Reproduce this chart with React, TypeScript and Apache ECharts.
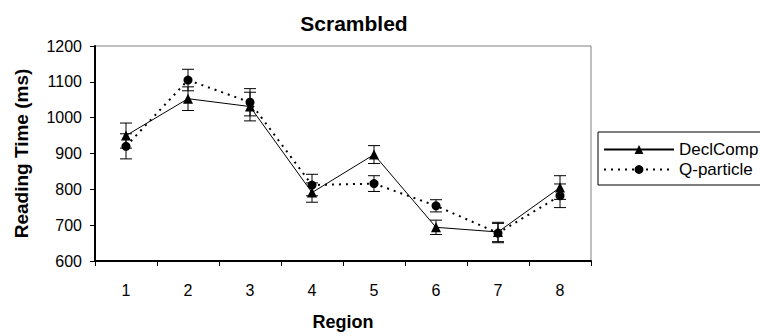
import React, { useEffect, useRef } from "react";
import * as echarts from "echarts";

const regions = ["1", "2", "3", "4", "5", "6", "7", "8"];
const declComp = [950, 1053, 1031, 791, 897, 694, 681, 805];
const declErr = [35, 33, 40, 27, 25, 20, 27, 33];
const qParticle = [920, 1105, 1043, 812, 816, 754, 678, 782];
const qErr = [35, 30, 38, 30, 22, 17, 27, 33];
const yTicks = { min: 600, max: 1200, interval: 100 };

const FONT = "'Liberation Sans', Arial, sans-serif";

function errorData(means: number[], errs: number[]) {
  return means.map((m, i) => [i, m - errs[i], m + errs[i]]);
}

function errorRender(params: any, api: any) {
  const x = api.value(0);
  const lo = api.coord([x, api.value(1)]);
  const hi = api.coord([x, api.value(2)]);
  const half = 6;
  const style = { stroke: "#000", lineWidth: 1 };
  return {
    type: "group",
    children: [
      { type: "line", shape: { x1: lo[0], y1: lo[1], x2: hi[0], y2: hi[1] }, style },
      { type: "line", shape: { x1: lo[0] - half, y1: lo[1], x2: lo[0] + half, y2: lo[1] }, style },
      { type: "line", shape: { x1: hi[0] - half, y1: hi[1], x2: hi[0] + half, y2: hi[1] }, style },
    ],
  };
}

export default function App() {
  const ref = useRef<HTMLDivElement>(null);
  useEffect(() => {
    document.body.style.margin = "0";
    const chart = echarts.init(ref.current!, null, { renderer: "svg" });
    chart.setOption({
      animation: false,
      backgroundColor: "#fff",
      title: {
        text: "Scrambled",
        left: 349,
        textAlign: "center",
        top: 8,
        textStyle: { fontFamily: FONT, fontSize: 21, fontWeight: "bold", color: "#000" },
      },
      grid: {
        left: 95,
        right: 169,
        top: 46,
        bottom: 74,
        show: true,
        borderColor: "#808080",
        borderWidth: 1,
        backgroundColor: "#fff",
      },
      legend: {
        orient: "vertical",
        left: 598,
        top: 132,
        padding: [9, 20, 7, 5],
        itemGap: 3,
        itemWidth: 70,
        itemHeight: 11,
        borderColor: "#000",
        borderWidth: 1,
        data: ["DeclComp", "Q-particle"],
        textStyle: { fontFamily: FONT, fontSize: 17, color: "#000", padding: [0, 0, 0, 0] },
      },
      xAxis: {
        type: "category",
        data: regions,
        boundaryGap: true,
        name: "Region",
        nameLocation: "middle",
        nameGap: 52,
        nameTextStyle: { fontFamily: FONT, fontSize: 18, fontWeight: "bold", color: "#000" },
        axisLine: { lineStyle: { color: "#000", width: 2 } },
        axisTick: { show: true, inside: false, length: 5, lineStyle: { color: "#000" } },
        axisLabel: { fontFamily: FONT, fontSize: 16, color: "#000", margin: 21 },
        splitLine: { show: false },
      },
      yAxis: {
        type: "value",
        min: yTicks.min,
        max: yTicks.max,
        interval: yTicks.interval,
        name: "Reading Time (ms)",
        nameLocation: "middle",
        nameGap: 64,
        nameTextStyle: { fontFamily: FONT, fontSize: 19, fontWeight: "bold", color: "#000" },
        axisLine: { show: true, lineStyle: { color: "#000", width: 2 } },
        axisTick: { show: true, inside: false, length: 5, lineStyle: { color: "#000" } },
        axisLabel: {
          fontFamily: FONT,
          fontSize: 16,
          color: "#000",
          margin: 13,
          formatter: (v: number) => String(v),
        },
        splitLine: { show: false },
      },
      series: [
        {
          name: "DeclComp",
          type: "line",
          data: declComp,
          symbol: "triangle",
          symbolSize: 10,
          itemStyle: { color: "#000" },
          lineStyle: { color: "#000", width: 1, type: "solid" },
          z: 3,
        },
        {
          name: "Q-particle",
          type: "line",
          data: qParticle,
          symbol: "circle",
          symbolSize: 9,
          itemStyle: { color: "#000" },
          lineStyle: { color: "#000", width: 2, type: [2, 5] },
          z: 3,
        },
        {
          name: "declErr",
          type: "custom",
          data: errorData(declComp, declErr),
          renderItem: errorRender,
          encode: { x: 0, y: [1, 2] },
          z: 4,
          silent: true,
        },
        {
          name: "qErr",
          type: "custom",
          data: errorData(qParticle, qErr),
          renderItem: errorRender,
          encode: { x: 0, y: [1, 2] },
          z: 4,
          silent: true,
        },
      ],
    });
    return () => chart.dispose();
  }, []);
  return <div ref={ref} style={{ width: 760, height: 336 }} />;
}
